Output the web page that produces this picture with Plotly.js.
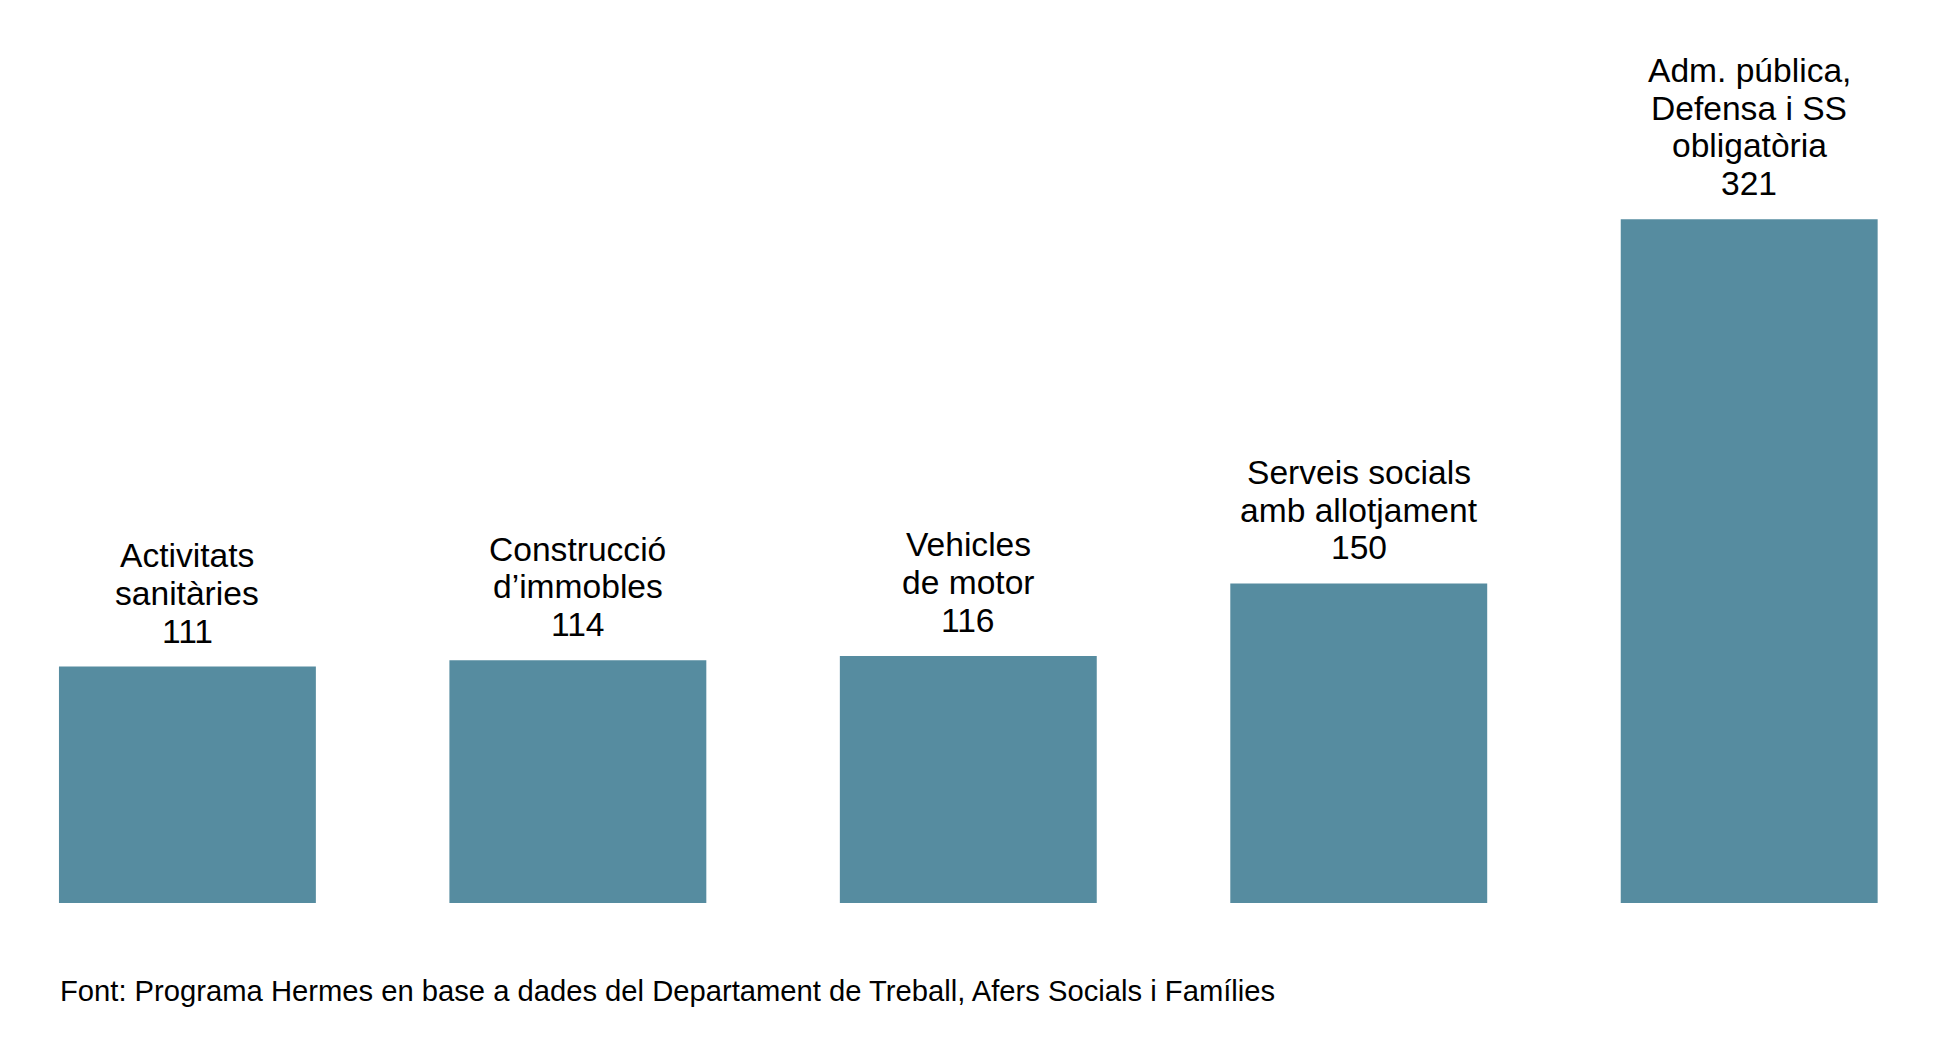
<!DOCTYPE html>
<html>
<head>
<meta charset="utf-8">
<script src="https://cdn.plot.ly/plotly-3.0.1.min.js"></script>
<style>
  html, body { margin: 0; padding: 0; background: #fff; }
  #chart { width: 1937px; height: 1063px; }
</style>
</head>
<body>
<div id="chart"></div>
<script>
// Category labels, one entry per line of text above each bar
const labelLines = [
    ['Activitats', 'sanitàries'],
    ['Construcció', 'd’immobles'],
    ['Vehicles', 'de motor'],
    ['Serveis socials', 'amb allotjament'],
    ['Adm. pública,', 'Defensa i SS', 'obligatòria']
];
const values = [111, 114, 116, 150, 321];
const sourceText = 'Font: Programa Hermes en base a dades del Departament de Treball, Afers Socials i Famílies';

const categories = labelLines.map(lines => lines.join(' '));

const barColor = '#568ca0';
const labelFont = { family: 'Liberation Sans, Arial, sans-serif', size: 33.6, color: '#000' };
const lineStep = 37.8;   // distance between label lines, px
const baseShift = 15;    // bottom of the value text above the bar top, px

// Build the stacked label annotations: value on the bottom line, name above it.
function buildLabels() {
    const annotations = [];
    categories.forEach((cat, i) => {
        const lines = [...labelLines[i], String(values[i])];
        lines.forEach((line, j) => {
            annotations.push({
                x: cat,
                y: values[i],
                xref: 'x', yref: 'y',
                text: line,
                showarrow: false,
                xanchor: 'center',
                yanchor: 'bottom',
                yshift: baseShift + (lines.length - 1 - j) * lineStep,
                font: labelFont
            });
        });
    });
    return annotations;
}

const trace = {
    type: 'bar',
    x: categories,
    y: values,
    marker: { color: barColor, line: { width: 0 } },
    hoverinfo: 'none'
};

const layout = {
    width: 1937,
    height: 1063,
    margin: { l: 0, r: 0, t: 0, b: 160, pad: 0 },
    paper_bgcolor: '#fff',
    plot_bgcolor: '#fff',
    showlegend: false,
    bargap: 0.342,
    xaxis: {
        type: 'category',
        range: [-0.48, 4.481],
        showgrid: false, zeroline: false, showline: false,
        showticklabels: false, ticks: '', fixedrange: true
    },
    yaxis: {
        range: [0, 423.9],
        showgrid: false, zeroline: false, showline: false,
        showticklabels: false, ticks: '', fixedrange: true
    },
    annotations: [
        ...buildLabels(),
        {
            xref: 'paper', yref: 'paper',
            x: 0.0297, y: -0.0775,
            xanchor: 'left', yanchor: 'top',
            text: sourceText,
            showarrow: false,
            font: { family: 'Liberation Sans, Arial, sans-serif', size: 29.2, color: '#000' }
        }
    ]
};

Plotly.newPlot('chart', [trace], layout, { staticPlot: true, displayModeBar: false });
</script>
</body>
</html>
